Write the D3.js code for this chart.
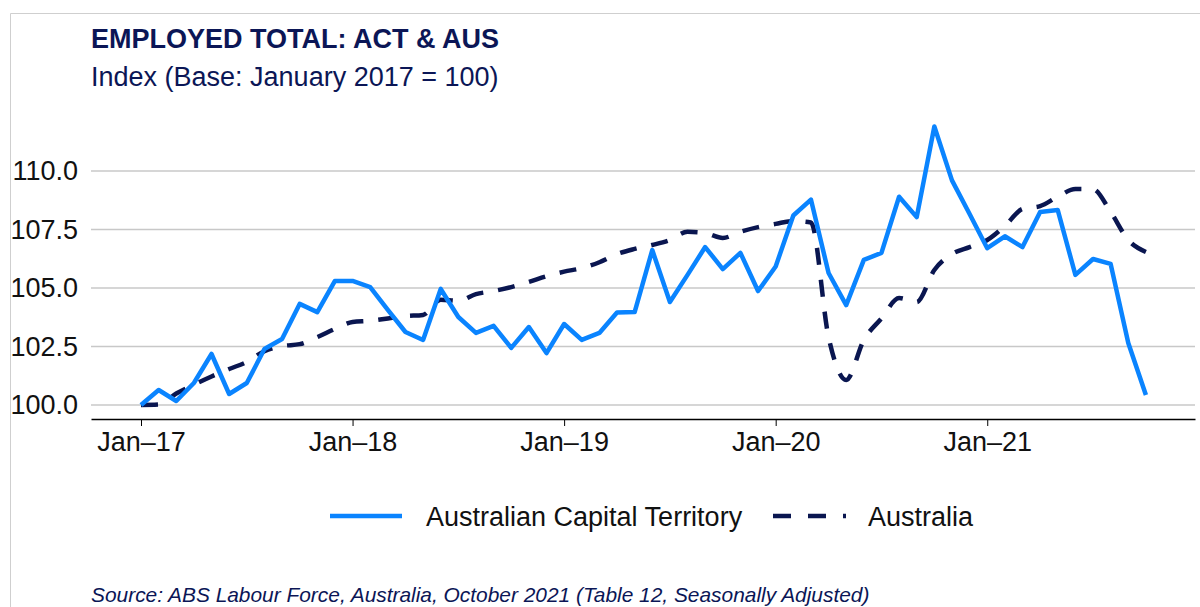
<!DOCTYPE html>
<html>
<head>
<meta charset="utf-8">
<script src="https://cdn.jsdelivr.net/npm/d3@7"></script>
<style>
  html, body { margin: 0; padding: 0; background: #fff; }
  svg { display: block; font-family: "Liberation Sans", Arial, sans-serif; }
</style>
</head>
<body>
<svg id="chart" width="1200" height="607"></svg>
<script>
// ---------- DATA ----------
const months = [
  "2017-01","2017-02","2017-03","2017-04","2017-05","2017-06","2017-07","2017-08","2017-09","2017-10","2017-11","2017-12",
  "2018-01","2018-02","2018-03","2018-04","2018-05","2018-06","2018-07","2018-08","2018-09","2018-10","2018-11","2018-12",
  "2019-01","2019-02","2019-03","2019-04","2019-05","2019-06","2019-07","2019-08","2019-09","2019-10","2019-11","2019-12",
  "2020-01","2020-02","2020-03","2020-04","2020-05","2020-06","2020-07","2020-08","2020-09","2020-10","2020-11","2020-12",
  "2021-01","2021-02","2021-03","2021-04","2021-05","2021-06","2021-07","2021-08","2021-09","2021-10"
];
const actValues = [
  100.0, 100.64, 100.17, 100.94, 102.18, 100.47, 100.94, 102.39, 102.82, 104.32, 103.97, 105.30,
  105.30, 105.04, 104.06, 103.12, 102.78, 104.96, 103.76, 103.08, 103.38, 102.44, 103.33, 102.22,
  103.46, 102.78, 103.08, 103.95, 103.97, 106.62, 104.40, 105.56, 106.75, 105.81, 106.50, 104.87,
  105.92, 108.10, 108.78, 105.64, 104.27, 106.20, 106.50, 108.90, 108.03, 111.90, 109.60, 108.16,
  106.70, 107.21, 106.75, 108.25, 108.33, 105.56, 106.24, 106.03, 102.65, 100.43
];
const ausValues = [
  100.0, 100.02, 100.49, 100.87, 101.22, 101.54, 101.84, 102.30, 102.52, 102.60, 102.90, 103.25,
  103.55, 103.60, 103.70, 103.80, 103.85, 104.50, 104.45, 104.74, 104.87, 105.04, 105.26, 105.50,
  105.70, 105.85, 106.10, 106.45, 106.67, 106.84, 107.05, 107.40, 107.35, 107.14, 107.40, 107.60,
  107.74, 107.86, 107.80, 102.90, 101.07, 102.78, 103.70, 104.57, 104.40, 105.77, 106.45, 106.75,
  107.05, 107.65, 108.38, 108.50, 108.90, 109.23, 109.22, 108.25, 107.05, 106.54
];
const yTicks = [100, 102.5, 105, 107.5, 110];
const xTickMonths = ["2017-01","2018-01","2019-01","2020-01","2021-01"];
const xTickLabels = ["Jan\u201317","Jan\u201318","Jan\u201319","Jan\u201320","Jan\u201321"];
const seriesNames = ["Australian Capital Territory", "Australia"];
const titleText = "EMPLOYED TOTAL: ACT & AUS";
const subtitleText = "Index (Base: January 2017 = 100)";
const sourceText = "Source: ABS Labour Force, Australia, October 2021 (Table 12, Seasonally Adjusted)";

// ---------- STYLE ----------
const NAVY = "#0b1656";
const ACT_BLUE = "#0a84ff";
const AUS_NAVY = "#0a1650";
const FONT = 27;

const svg = d3.select("#chart");

// frame
svg.append("path")
  .attr("d", "M10.5,607 L10.5,13.5 L1200,13.5")
  .attr("fill", "none").attr("stroke", "#cfcfcf").attr("stroke-width", 1);

// titles
svg.append("text").attr("x", 91).attr("y", 48)
  .attr("font-size", FONT).attr("font-weight", "bold").attr("fill", NAVY)
  .text(titleText);
svg.append("text").attr("x", 91).attr("y", 86)
  .attr("font-size", FONT).attr("fill", NAVY)
  .text(subtitleText);

// scales
const monthIndex = d3.scaleOrdinal().domain(months).range(d3.range(months.length));
const step = 17.63;
const x0 = 141;
const x = d3.scaleLinear()
  .domain([(91 - x0) / step, (1195 - x0) / step])
  .range([91, 1195]);
const y = d3.scaleLinear().domain([100, 110]).range([405, 171]);

// gridlines
svg.append("g").selectAll("line").data(yTicks).join("line")
  .attr("x1", 91).attr("x2", 1195)
  .attr("y1", d => y(d)).attr("y2", d => y(d))
  .attr("stroke", "#c8c8c8").attr("stroke-width", 1.5);

// y axis labels
const yAxis = d3.axisLeft(y).tickValues(yTicks).tickSize(0).tickPadding(0)
  .tickFormat(d3.format(".1f"));
const gy = svg.append("g").attr("transform", "translate(78,0)").call(yAxis);
gy.select(".domain").remove();
gy.selectAll("text").attr("font-size", FONT).attr("fill", "#111")
  .attr("font-family", '"Liberation Sans", Arial, sans-serif');

// x axis
const xAxis = d3.axisBottom(x)
  .tickValues(xTickMonths.map(m => monthIndex(m)))
  .tickFormat((d, i) => xTickLabels[i])
  .tickSizeInner(7).tickSizeOuter(0).tickPadding(6);
const gx = svg.append("g").attr("transform", "translate(0,419)").call(xAxis);
gx.select(".domain").attr("stroke", "#000").attr("stroke-width", 1.5);
gx.selectAll(".tick line").attr("stroke", "#000").attr("stroke-width", 1);
gx.selectAll("text").attr("font-size", FONT).attr("fill", "#111")
  .attr("font-family", '"Liberation Sans", Arial, sans-serif');

// lines
const actData = months.map((m, i) => ({ i: monthIndex(m), v: actValues[i] }));
const ausData = months.map((m, i) => ({ i: monthIndex(m), v: ausValues[i] }));

const lineStraight = d3.line().x(d => x(d.i)).y(d => y(d.v));
const lineSmooth = d3.line().x(d => x(d.i)).y(d => y(d.v)).curve(d3.curveMonotoneX);

svg.append("path").datum(ausData)
  .attr("d", lineSmooth)
  .attr("fill", "none").attr("stroke", AUS_NAVY).attr("stroke-width", 4.5)
  .attr("stroke-dasharray", "17,15");

svg.append("path").datum(actData)
  .attr("d", lineStraight)
  .attr("fill", "none").attr("stroke", ACT_BLUE).attr("stroke-width", 4.5)
  .attr("stroke-linejoin", "round");

// legend
const lg = svg.append("g");
lg.append("line").attr("x1", 330).attr("x2", 402).attr("y1", 516).attr("y2", 516)
  .attr("stroke", ACT_BLUE).attr("stroke-width", 4.5);
lg.append("text").attr("x", 426).attr("y", 526).attr("font-size", FONT).attr("fill", "#111")
  .text(seriesNames[0]);
lg.append("line").attr("x1", 773).attr("x2", 846).attr("y1", 516).attr("y2", 516)
  .attr("stroke", AUS_NAVY).attr("stroke-width", 4.5).attr("stroke-dasharray", "18,17");
lg.append("text").attr("x", 868).attr("y", 526).attr("font-size", FONT).attr("fill", "#111")
  .text(seriesNames[1]);

// source
svg.append("text").attr("x", 91).attr("y", 602)
  .attr("font-size", 20.9).attr("font-style", "italic").attr("fill", NAVY)
  .text(sourceText);
</script>
</body>
</html>
